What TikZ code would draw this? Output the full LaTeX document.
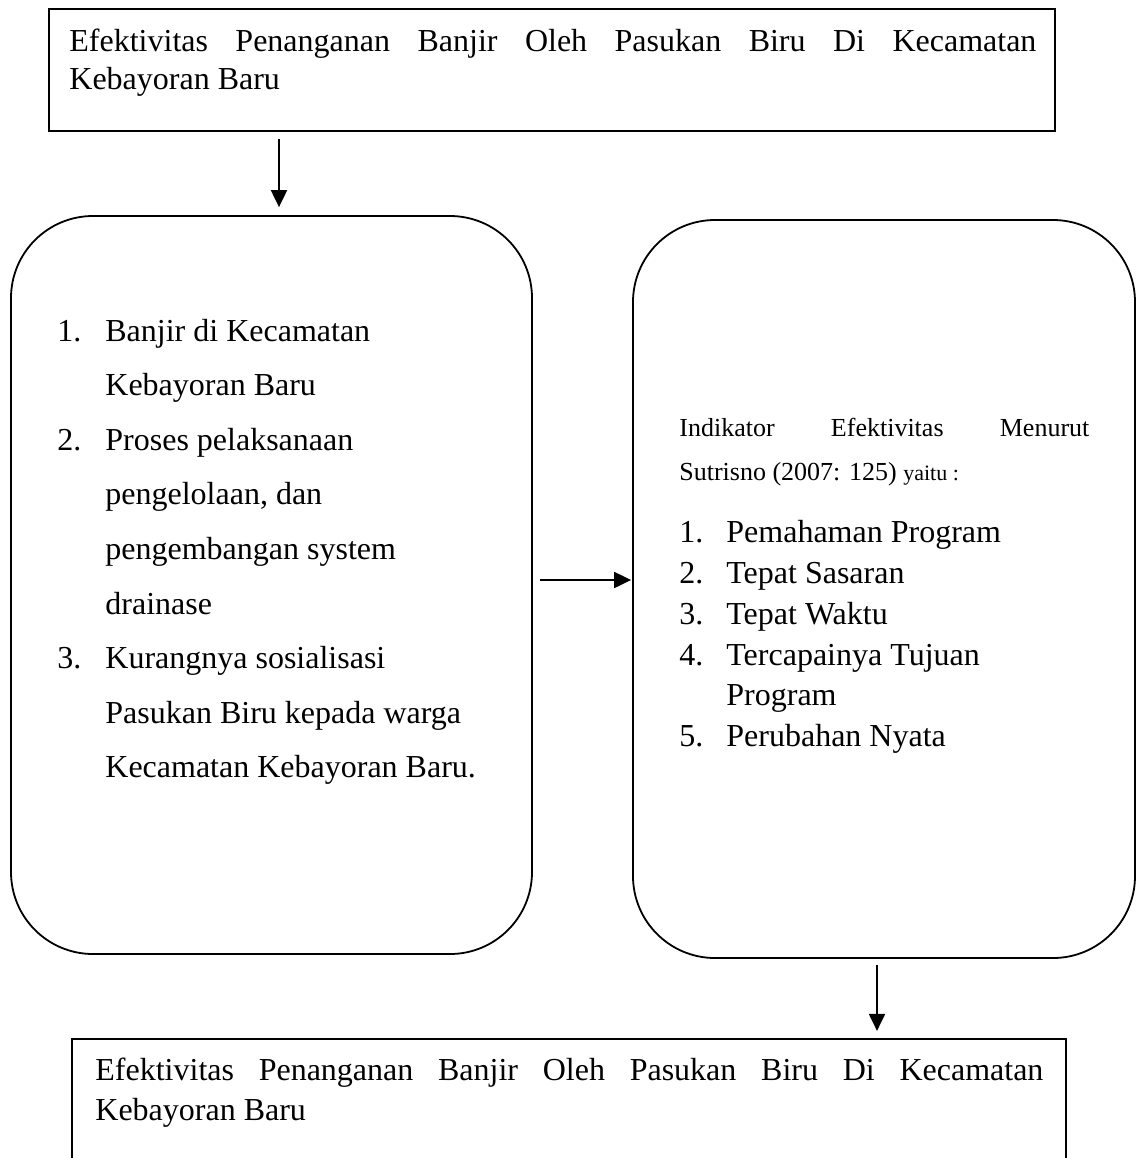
\documentclass[tikz,border=0pt]{standalone}
\usepackage{fontspec}
\setmainfont{Liberation Serif}
\usetikzlibrary{arrows.meta}
\begin{document}
\begin{tikzpicture}[x=0.5pt,y=-0.5pt,
  box/.style={draw,line width=1.1pt,inner sep=0pt},
  rbox/.style={draw,line width=0.9pt,rounded corners=41pt,inner sep=0pt},
  conn/.style={line width=1pt,-{Triangle[length=8.5pt,width=8pt]}},
  txt/.style={inner sep=0pt,anchor=base west,font=\fontsize{16}{19}\selectfont},
  stxt/.style={inner sep=0pt,anchor=base west,font=\fontsize{13}{15}\selectfont}]
\clip (0,0) rectangle (1136,1158);
\fill[white] (0,0) rectangle (1136,1158);
% boxes
\node[box,minimum width=503pt,minimum height=61pt] (top) at (552,70) {};
\node[rbox,minimum width=260.5pt,minimum height=369pt] (left) at (271.5,585) {};
\node[rbox,minimum width=251pt,minimum height=369pt] (right) at (884,589) {};
\node[box,minimum width=497pt,minimum height=90.5pt] (bottom) at (569,1129.5) {};
% connector anchors
\coordinate (ax1) at (279,0);
\coordinate (ay2) at (0,580);
\coordinate (ax3) at (877,0);
\draw[conn,shorten <=3.5pt,shorten >=4pt] (top.south -| ax1) -- (left.north -| ax1);
\draw[conn,shorten <=3.5pt,shorten >=0.5pt] (left.east |- ay2) -- (right.west |- ay2);
\draw[conn,shorten <=3pt,shorten >=3.5pt] (right.south -| ax3) -- (bottom.north -| ax3);
% top text
\node[txt] (t1) at (69,51) {\makebox[483.5pt][s]{Efektivitas Penanganan Banjir Oleh Pasukan Biru Di Kecamatan}};
\node[txt] (t2) at (69,89) {Kebayoran Baru};
% left list
\foreach \n/\k in {1./0,2./2,3./6}
  \node[txt] (ln\k) at (57,{341+54.6*\k}) {\n};
\foreach \s [count=\k from 0] in {Banjir di Kecamatan,Kebayoran Baru,Proses pelaksanaan,{pengelolaan, dan},pengembangan system,drainase,Kurangnya sosialisasi,Pasukan Biru kepada warga,Kecamatan Kebayoran Baru.}
  \node[txt] (l\k) at (105,{341+54.6*\k}) {\s};
% right text
\node[stxt] (r1) at (679,436) {\makebox[205pt][s]{Indikator Efektivitas Menurut}};
\node[stxt] (r2) at (679,480) {Sutrisno (2007: 125) {\fontsize{11}{13}\selectfont yaitu :}};
\foreach \n/\y in {1./542,2./583,3./624,4./665,5./746}
  \node[txt] (rn\y) at (679,\y) {\n};
\foreach \s/\y in {Pemahaman Program/542,Tepat Sasaran/583,Tepat Waktu/624,Tercapainya Tujuan/665,Program/705,Perubahan Nyata/746}
  \node[txt] (rt\y) at (726,\y) {\s};
% bottom text
\node[txt] (b1) at (95,1080) {\makebox[474pt][s]{Efektivitas Penanganan Banjir Oleh Pasukan Biru Di Kecamatan}};
\node[txt] (b2) at (95,1120) {Kebayoran Baru};
\end{tikzpicture}
\end{document}
